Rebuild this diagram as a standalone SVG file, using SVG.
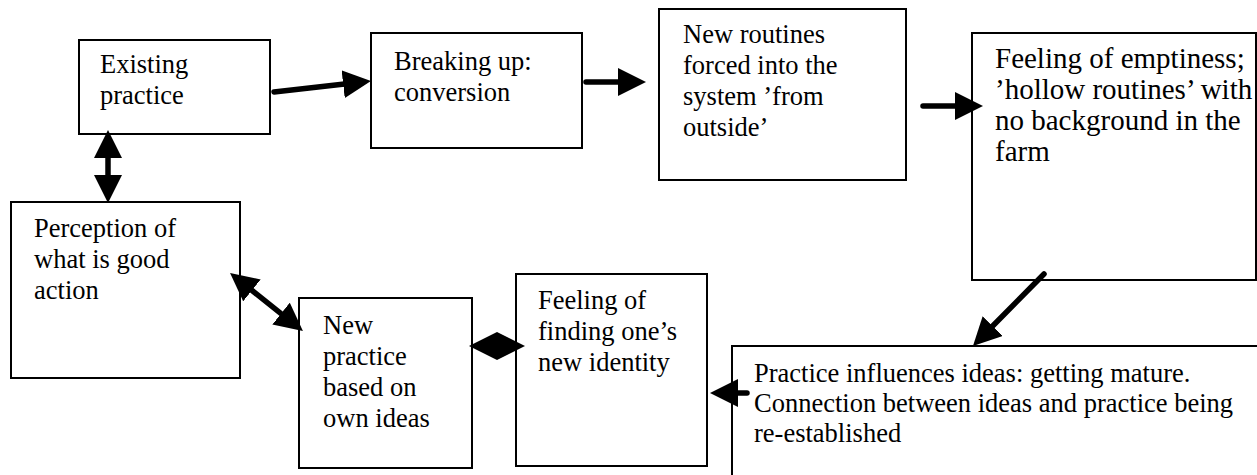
<svg xmlns="http://www.w3.org/2000/svg" width="1257" height="475" viewBox="0 0 1257 475">
  <style>
    .box { fill: #ffffff; stroke: #000000; stroke-width: 2; }
    .lbl { font-family: "Liberation Serif", "Times New Roman", serif; font-size: 26.5px; fill: #000000; }
    .big { font-size: 29px; }
    .shaft { stroke: #000000; stroke-width: 5.5; stroke-linecap: round; fill: none; }
  </style>
  <defs>
    <!-- filled triangular head; tip sits 20 units beyond the shaft end -->
    <marker id="head" viewBox="0 0 28 28" refX="8" refY="14" markerWidth="28" markerHeight="28" markerUnits="userSpaceOnUse" orient="auto-start-reverse">
      <path d="M0,0 L28,14 L0,28 Z" fill="#000000"/>
    </marker>
  </defs>

  <!-- process boxes -->
  <g id="existing-practice">
    <rect class="box" x="79" y="40" width="191" height="94"/>
    <text class="lbl"><tspan x="100" y="73">Existing</tspan><tspan x="100" y="104">practice</tspan></text>
  </g>

  <g id="breaking-up">
    <rect class="box" x="371" y="33" width="211" height="115"/>
    <text class="lbl"><tspan x="394" y="70">Breaking up:</tspan><tspan x="394" y="101">conversion</tspan></text>
  </g>

  <g id="new-routines">
    <rect class="box" x="659" y="9" width="247" height="171"/>
    <text class="lbl"><tspan x="683" y="43">New routines</tspan><tspan x="683" y="74">forced into the</tspan><tspan x="683" y="105">system ’from</tspan><tspan x="683" y="136">outside’</tspan></text>
  </g>

  <g id="emptiness">
    <rect class="box" x="972" y="33" width="284" height="247"/>
    <text class="lbl big"><tspan x="995" y="68">Feeling of emptiness;</tspan><tspan x="995" y="99">’hollow routines’ with</tspan><tspan x="995" y="130">no background in the</tspan><tspan x="995" y="161">farm</tspan></text>
  </g>

  <g id="perception">
    <rect class="box" x="11" y="202" width="229" height="176"/>
    <text class="lbl"><tspan x="34" y="237">Perception of</tspan><tspan x="34" y="268">what is good</tspan><tspan x="34" y="299">action</tspan></text>
  </g>

  <g id="new-practice">
    <rect class="box" x="299" y="298" width="173" height="170"/>
    <text class="lbl"><tspan x="323" y="334">New</tspan><tspan x="323" y="365">practice</tspan><tspan x="323" y="396">based on</tspan><tspan x="323" y="427">own ideas</tspan></text>
  </g>

  <g id="new-identity">
    <rect class="box" x="516" y="274" width="191" height="192"/>
    <text class="lbl"><tspan x="538" y="309">Feeling of</tspan><tspan x="538" y="340">finding one’s</tspan><tspan x="538" y="371">new identity</tspan></text>
  </g>

  <g id="ideas-mature">
    <rect class="box" x="732" y="346" width="540" height="140"/>
    <text class="lbl"><tspan x="754" y="382">Practice influences ideas: getting mature.</tspan><tspan x="754" y="412">Connection between ideas and practice being</tspan><tspan x="754" y="442">re-established</tspan></text>
  </g>

  <!-- connectors -->
  <g id="connectors">
    <line class="shaft" x1="274" y1="92" x2="351.1" y2="83.3" marker-end="url(#head)"/>
    <line class="shaft" x1="586" y1="82" x2="626" y2="82" marker-end="url(#head)"/>
    <line class="shaft" x1="923" y1="106" x2="963" y2="106" marker-end="url(#head)"/>
    <line class="shaft" x1="1044" y1="274" x2="987" y2="331.8" marker-end="url(#head)"/>
    <line class="shaft" x1="747" y1="393" x2="730" y2="393" marker-end="url(#head)"/>
    <line class="shaft" x1="108" y1="150" x2="108" y2="183" marker-start="url(#head)" marker-end="url(#head)"/>
    <line class="shaft" x1="245.7" y1="285.4" x2="287.3" y2="318.6" marker-start="url(#head)" marker-end="url(#head)"/>
    <line class="shaft" x1="489" y1="346" x2="505" y2="346" marker-start="url(#head)" marker-end="url(#head)"/>
  </g>
</svg>
